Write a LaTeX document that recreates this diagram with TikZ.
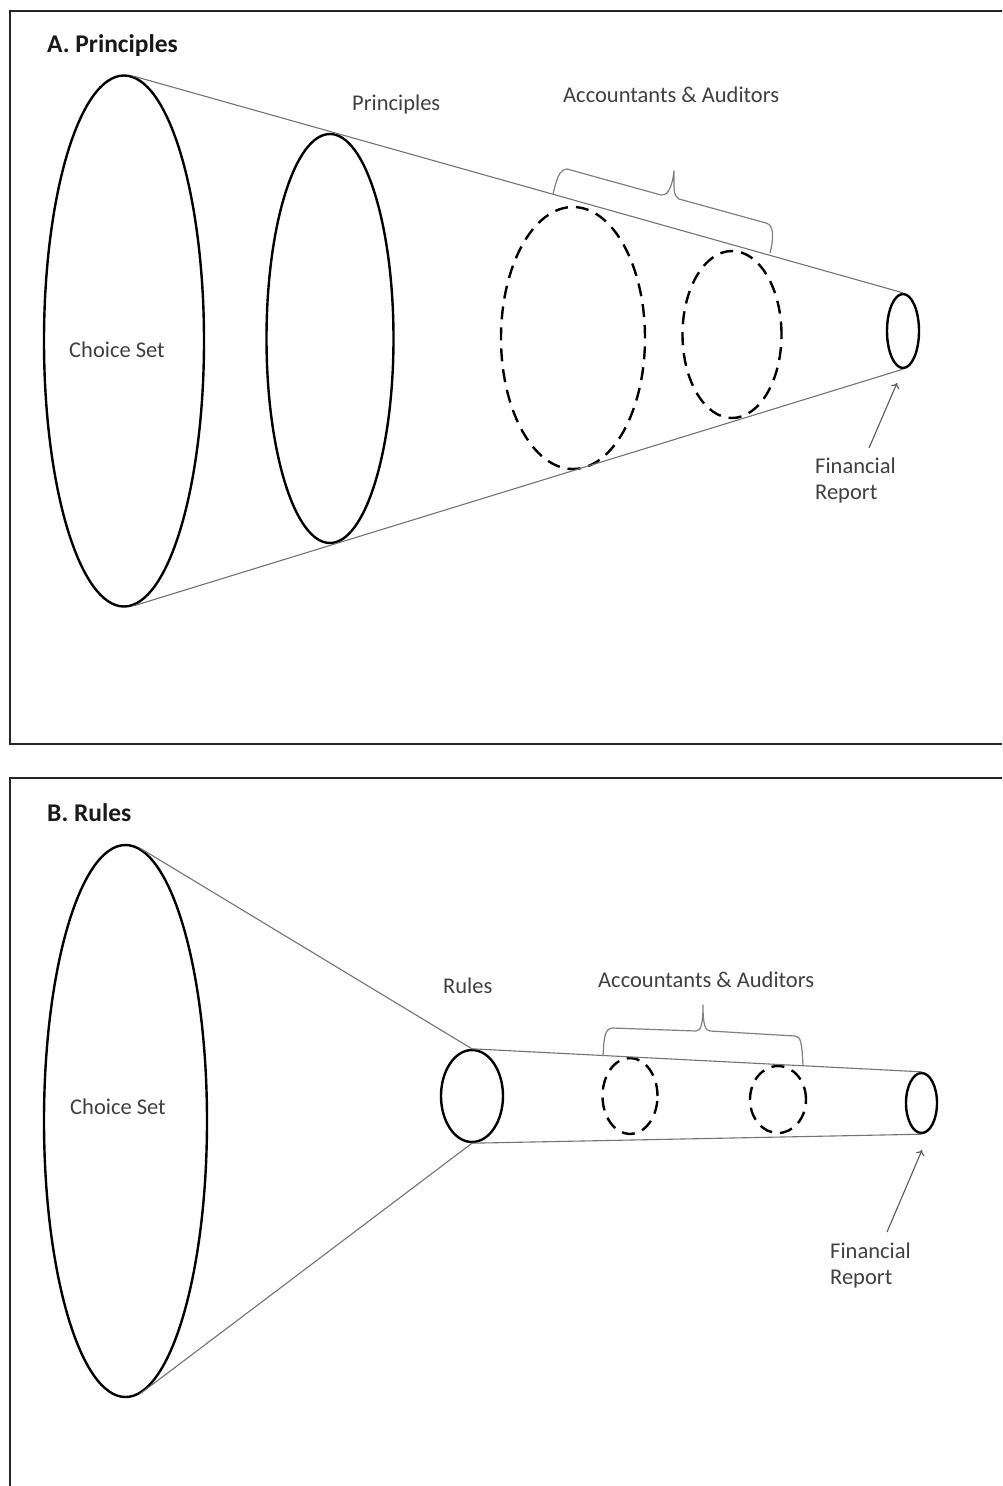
\documentclass[tikz,border=0pt]{standalone}
\usepackage{fontspec}
\setmainfont{Carlito}
\usetikzlibrary{shapes.geometric,arrows.meta}
\begin{document}
\begin{tikzpicture}[x=1pt,y=-1pt,
  ring/.style={ellipse, draw=black, line width=2.4pt, inner sep=0pt, fill=none},
  dring/.style={ring, dash pattern=on 13pt off 8pt},
  edge/.style={draw=black!55, line width=1.1pt},
  bracep/.style={draw=black!50, line width=1.2pt, line join=round},
  pointer/.style={draw=black!65, line width=1.1pt, -{To[length=5pt,width=9pt]}},
  frame/.style={draw=black!85, line width=1.8pt},
  lbl/.style={font=\fontsize{22.5}{26}\selectfont, text=black!75, inner sep=0pt, anchor=base west},
  ttl/.style={font=\fontsize{25.5}{29}\selectfont\bfseries, text=black!90, inner sep=0pt, anchor=base west}
]
\clip (0,0) rectangle (1002,1486);
\fill[white] (0,0) rectangle (1002,1486);
% frames
\draw[frame] (10,11) rectangle (1030,744);
\draw[frame] (10,778) rectangle (1030,1520);

% ---------------- Panel A ----------------
\node[ttl] (titleA) at (47,52) {A. Principles};
\node[ring, minimum width=160pt, minimum height=531pt] (A1) at (124,341) {};
\node[ring, minimum width=127pt, minimum height=409pt] (A2) at (330,338.5) {};
\node[dring, minimum width=144pt, minimum height=262pt] (A3) at (573,338) {};
\node[dring, minimum width=99pt, minimum height=167pt] (A4) at (732,334.5) {};
\node[ring, minimum width=32pt, minimum height=74pt] (A5) at (903,331) {};

\draw[edge] (A1.88) -- (A5.north);
\draw[edge] (A1.-88) -- (A5.south);

\node[lbl] (csA) at (69,357) {Choice Set};
\node[lbl] (prA) at (352,110) {Principles};
\node[lbl] (aaA) at (563,102) {Accountants \& Auditors};
\node[lbl] (finA) at (815,473) {Financial};
\node[lbl] (repA) at (815,499) {Report};

\draw[bracep] (553,194) .. controls (557,178) and (559,170) .. (567,169)
  -- (661,195) .. controls (667,196) and (672,189) .. (674,171)
  .. controls (674,188) and (673,196) .. (679,199)
  -- (766,223) .. controls (774,225) and (774,238) .. (770,253);

\coordinate (arA) at (869,448);
\coordinate (tipA) at (897,383);
\draw[pointer] (arA) -- (tipA);

% ---------------- Panel B ----------------
\node[ttl] (titleB) at (47,821) {B. Rules};
\node[ring, minimum width=163pt, minimum height=552pt] (B1) at (125.5,1121) {};
\node[ring, minimum width=62pt, minimum height=92pt] (B2) at (472,1096) {};
\node[dring, minimum width=55pt, minimum height=76pt] (B3) at (630,1096) {};
\node[dring, minimum width=56pt, minimum height=67pt] (B4) at (778,1099.5) {};
\node[ring, minimum width=31pt, minimum height=60pt] (B5) at (921.5,1103) {};

\draw[edge] (B1.87) -- (B2.north) -- (B5.north);
\draw[edge] (B1.-87) -- (B2.south) -- (B5.south);

\node[lbl] (csB) at (70,1114) {Choice Set};
\node[lbl] (ruB) at (443,993) {Rules};
\node[lbl] (aaB) at (598,987) {Accountants \& Auditors};
\node[lbl] (finB) at (830,1258) {Financial};
\node[lbl] (repB) at (830,1284) {Report};

\draw[bracep] (603,1056) .. controls (604,1040) and (604,1029) .. (612,1028)
  -- (696,1031) .. controls (701,1031) and (703,1024) .. (703,1005)
  .. controls (703,1024) and (705,1031) .. (710,1031)
  -- (795,1036) .. controls (801,1036) and (802,1044) .. (803,1066);

\coordinate (arB) at (887,1232);
\coordinate (tipB) at (922,1150);
\draw[pointer] (arB) -- (tipB);
\end{tikzpicture}
\end{document}
